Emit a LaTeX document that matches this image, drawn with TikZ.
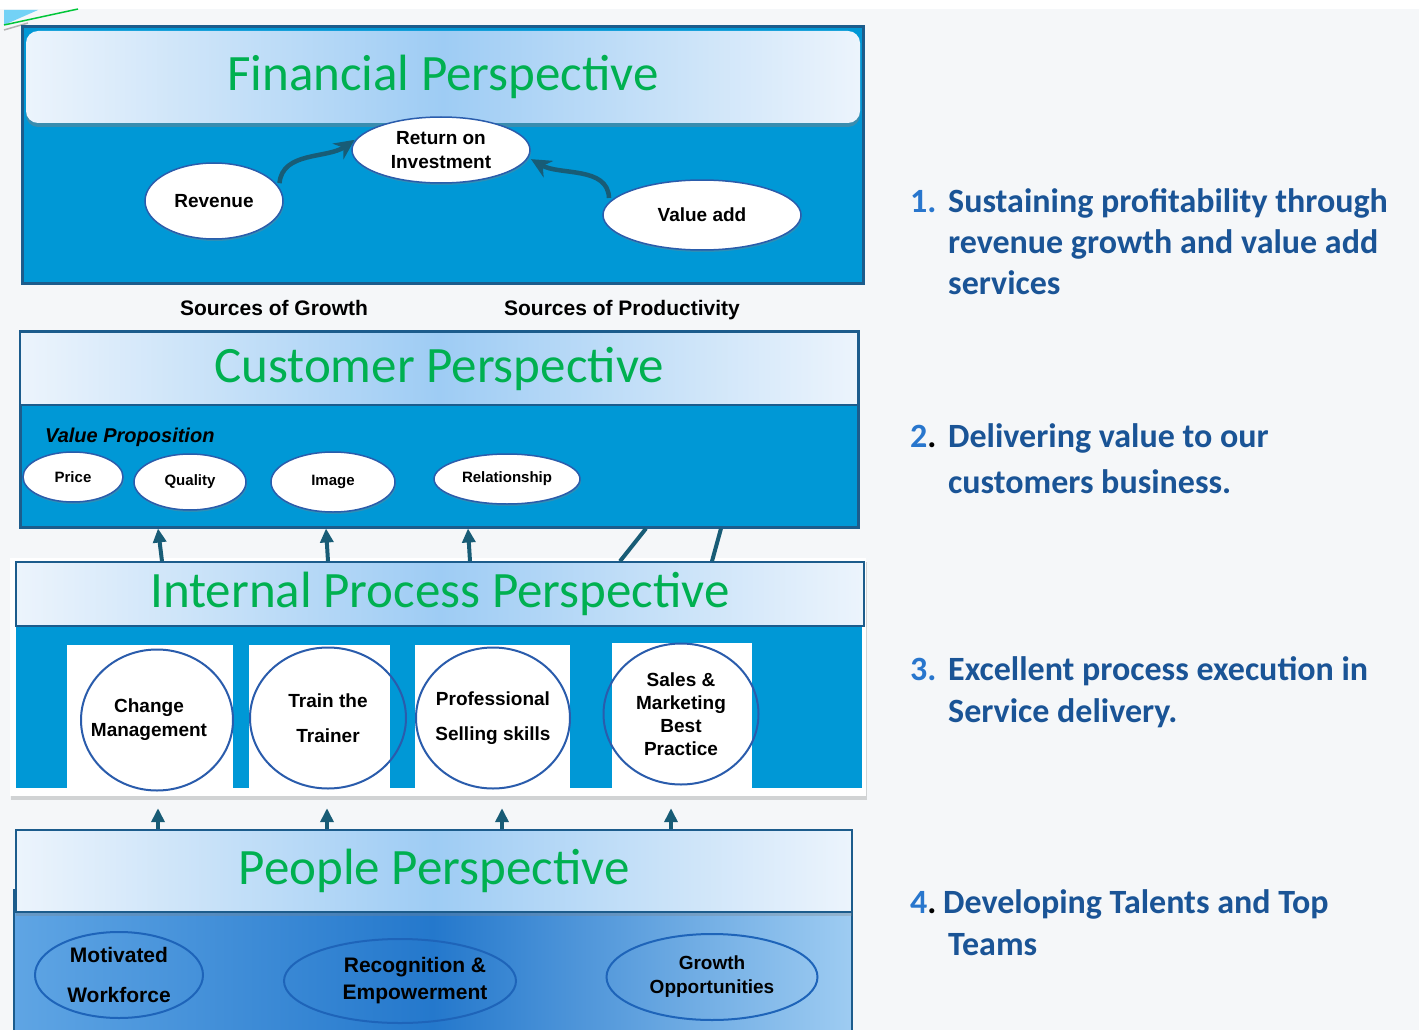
\documentclass[tikz,border=0pt]{standalone}
\usepackage{fontspec}
\setmainfont{Liberation Sans}
\newfontfamily\calib{Carlito}
\usetikzlibrary{shapes.geometric,shadows,arrows.meta}

\definecolor{bgGray}{RGB}{245,247,249}
\definecolor{bodyBlue}{RGB}{0,152,214}
\definecolor{frameNavy}{RGB}{28,92,140}
\definecolor{hdEdge}{RGB}{236,244,252}
\definecolor{hdMid}{RGB}{158,204,244}
\definecolor{titleGreen}{RGB}{0,176,80}
\definecolor{arrowTeal}{RGB}{24,92,118}
\definecolor{ringBlue}{RGB}{42,92,172}
\definecolor{peopleRing}{RGB}{30,100,185}
\definecolor{peopleLeft}{RGB}{95,165,228}
\definecolor{peopleMid}{RGB}{36,120,204}
\definecolor{peopleRight}{RGB}{158,204,242}
\definecolor{goalBlue}{RGB}{26,84,150}
\definecolor{numBlue}{RGB}{40,118,205}

\tikzset{
    header/.style={rectangle, draw=frameNavy, line width=2pt, inner sep=0,
        left color=hdEdge, right color=hdEdge, middle color=hdMid,
        text=titleGreen, font=\calib\fontsize{51}{60}\selectfont},
    bodybox/.style={rectangle, draw=frameNavy, line width=3pt, fill=bodyBlue, inner sep=0},
    slot/.style={rectangle, fill=white, inner sep=0},
    bubble/.style={ellipse, draw=ringBlue, line width=1.5pt, fill=white, inner sep=0,
        align=center, font=\bfseries\fontsize{19}{24}\selectfont,
        drop shadow={opacity=0.35, shadow xshift=1pt, shadow yshift=-2pt}},
    smallbubble/.style={bubble, font=\bfseries\fontsize{15}{18}\selectfont},
    ring/.style={ellipse, draw=ringBlue, line width=2pt, inner sep=-30pt,
        align=center, font=\bfseries\fontsize{19}{24}\selectfont},
    flow/.style={draw=arrowTeal, line width=4pt, -{Triangle[length=14pt,width=13pt]}},
    curvelink/.style={draw=arrowTeal, line width=4.5pt, -{Stealth[length=20pt,width=19pt]}},
    plainlink/.style={draw=arrowTeal, line width=4pt},
    caption/.style={font=\bfseries\fontsize{21}{24}\selectfont},
    goal/.style={anchor=base west, inner sep=0, text=goalBlue,
        font=\calib\bfseries\fontsize{34}{41}\selectfont},
    goalnum/.style={goal, text=numBlue}
}

\begin{document}
\begin{tikzpicture}[x=1pt, y=-1pt]
    % Page and margins
    \useasboundingbox (0,0) rectangle (1419,1030);
    \fill[bgGray] (0,0) rectangle (1419,1030);
    \fill[white] (0,0) rectangle (1419,9);
    \fill[cyan!55] (4,10) -- (38,10) -- (4,25) -- cycle;
    \draw[green!55!teal, line width=1.5pt] (4,25) -- (78,9);
    \draw[gray!60, line width=1.5pt] (4,30) -- (28,23);

    % Financial perspective
    \node[bodybox, minimum width=841pt, minimum height=256pt] (finBox) at (442.5,155) {};
    \node[header, rounded corners=12pt, draw=none, minimum width=834pt, minimum height=92pt,
        drop shadow={opacity=0.45, shadow xshift=0pt, shadow yshift=-4pt}] (finHead) at (443,77) {Financial Perspective};
    \node[bubble, minimum width=178pt, minimum height=66pt] (roi) at (441,150) {Return on\\Investment};
    \node[bubble, minimum width=138pt, minimum height=76pt] (rev) at (214,201) {Revenue};
    \node[bubble, minimum width=198pt, minimum height=70pt] (vadd) at (702,215) {Value add};
    \draw[curvelink, shorten <=4pt, shorten >=3pt] (rev.12) to[out=85, in=215] (roi.172);
    \draw[curvelink, shorten <=4pt, shorten >=3pt] (vadd.172) to[out=92, in=-30] (roi.-5);

    \node[caption, anchor=base] (growth) at (274,315) {Sources of Growth};
    \node[caption, anchor=base] (prod) at (622,315) {Sources of Productivity};

    % Customer perspective
    \node[bodybox, minimum width=838pt, minimum height=196pt] (custBox) at (439,429) {};
    \node[header, minimum width=838pt, minimum height=73pt] (custHead) at (439,368.5) {Customer Perspective};
    \node[anchor=base west, inner sep=0, font=\bfseries\itshape\fontsize{20}{24}\selectfont] (valprop) at (45,442) {Value Proposition};
    \node[smallbubble, minimum width=100pt, minimum height=50pt] (price) at (73,477) {Price};
    \node[smallbubble, minimum width=112pt, minimum height=56pt] (quality) at (190,482) {Quality};
    \node[smallbubble, minimum width=124pt, minimum height=60pt] (image) at (333,482) {Image};
    \node[smallbubble, minimum width=146pt, minimum height=50pt] (relation) at (507,479) {Relationship};

    % Internal process perspective
    \node[rectangle, fill=white, inner sep=0, minimum width=856pt, minimum height=238pt,
        drop shadow={opacity=0.3, shadow xshift=1pt, shadow yshift=-4pt}] (ipFrame) at (438,677) {};
    \node[rectangle, fill=bodyBlue, inner sep=0, minimum width=846pt, minimum height=162pt] (ipBody) at (439,707) {};
    \node[slot, minimum width=166pt, minimum height=143pt] (slotA) at (150,716.5) {};
    \node[slot, minimum width=141pt, minimum height=143pt] (slotB) at (319.5,716.5) {};
    \node[slot, minimum width=155pt, minimum height=143pt] (slotC) at (492.5,716.5) {};
    \node[slot, minimum width=140pt, minimum height=145pt] (slotD) at (682,715.5) {};
    \node[header, line width=1.5pt, minimum width=848pt, minimum height=64pt] (ipHead) at (440,594) {Internal Process Perspective};
    \node[ring, minimum width=152pt, minimum height=141pt] (change) at (157,720) {Change\hspace*{16pt}\\Management\hspace*{16pt}};
    \node[ring, minimum width=156pt, minimum height=141pt, font=\bfseries\fontsize{19}{35}\selectfont] (trainer) at (328,718) {Train the\\Trainer};
    \node[ring, minimum width=154pt, minimum height=141pt, font=\bfseries\fontsize{19}{35}\selectfont] (selling) at (493,718) {Professional\\Selling skills};
    \node[ring, minimum width=155pt, minimum height=141pt, font=\bfseries\fontsize{19}{23}\selectfont] (sales) at (681,714) {Sales \&\\Marketing\\Best\\Practice};

    % Links internal -> customer
    \draw[flow] (162,0 |- ipHead.north) -- (158,0 |- custBox.south);
    \draw[flow] (328,0 |- ipHead.north) -- (326,0 |- custBox.south);
    \draw[flow] (470,0 |- ipHead.north) -- (468,0 |- custBox.south);
    \draw[plainlink] (620,0 |- ipHead.north) -- (646,0 |- custBox.south);
    \draw[plainlink] (712,0 |- ipHead.north) -- (721,0 |- custBox.south);

    % People perspective
    \node[rectangle, draw=frameNavy, line width=2pt, inner sep=0, minimum width=838pt, minimum height=150pt,
        left color=peopleLeft, right color=peopleRight, middle color=peopleMid] (pplBody) at (433,965) {};
    \node[header, minimum width=836pt, minimum height=82pt,
        drop shadow={opacity=0.3, shadow xshift=0pt, shadow yshift=-4pt}] (pplHead) at (434,871) {People Perspective};
    \node[ring, draw=peopleRing, minimum width=168pt, minimum height=86pt, font=\bfseries\fontsize{21}{40}\selectfont] (motiv) at (119,975) {Motivated\\Workforce};
    \node[ring, draw=peopleRing, minimum width=232pt, minimum height=84pt, font=\bfseries\fontsize{21}{27}\selectfont] (recog) at (400,981) {\hspace*{30pt}Recognition \&\\\hspace*{30pt}Empowerment};
    \node[ring, draw=peopleRing, minimum width=211pt, minimum height=86pt] (grow) at (712,977) {Growth\\Opportunities};

    % Links people -> internal
    \foreach \x in {158, 327, 502, 671} {
        \draw[flow, shorten >=12pt] (\x,0 |- pplHead.north) -- (\x,0 |- ipFrame.south);
    }

    % Goals on the right
    \node[goalnum] (numA) at (910,212) {1.};
    \foreach \ln [count=\i] in {Sustaining profitability through, revenue growth and value add, services} {
        \node[goal] (goalA\i) at (948,171+41*\i) {\ln};
    }
    \node[goalnum] (numB) at (910,447) {2\textcolor{black}{.}};
    \foreach \ln [count=\i] in {Delivering value to our, customers business.} {
        \node[goal] (goalB\i) at (948,401+46*\i) {\ln};
    }
    \node[goalnum] (numC) at (910,680) {3.};
    \foreach \ln [count=\i] in {Excellent process execution in, Service delivery.} {
        \node[goal] (goalC\i) at (948,638+42*\i) {\ln};
    }
    \node[goalnum] (numD) at (910,913) {4\textcolor{black}{.}};
    \node[goal] (goalD1) at (943,913) {Developing Talents and Top};
    \node[goal] (goalD2) at (948,955) {Teams};

\end{tikzpicture}
\end{document}
